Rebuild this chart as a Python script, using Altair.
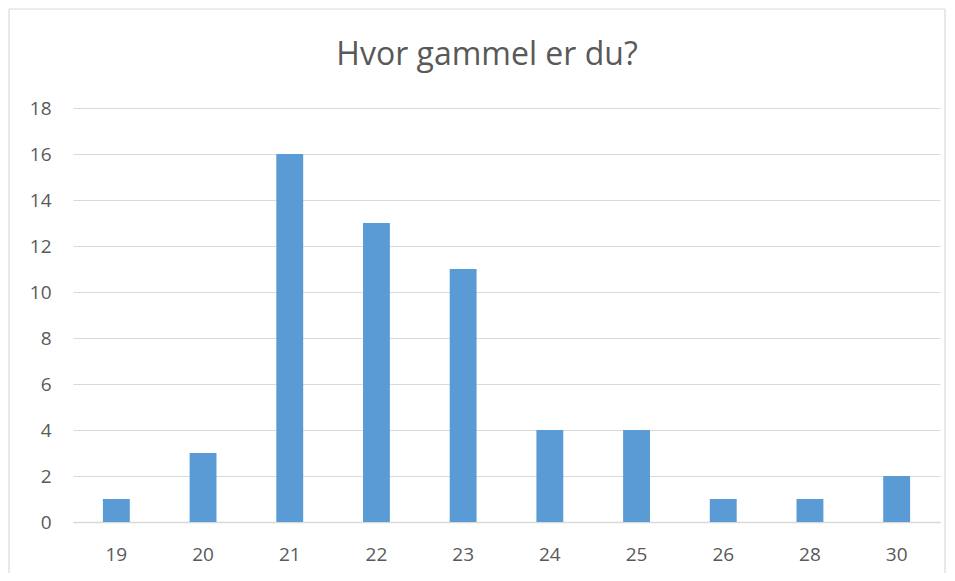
import altair as alt
import pandas as pd

ages = ["19", "20", "21", "22", "23", "24", "25", "26", "28", "30"]
counts = [1, 3, 16, 13, 11, 4, 4, 1, 1, 2]
y_ticks = [0, 2, 4, 6, 8, 10, 12, 14, 16, 18]
title_text = "Hvor gammel er du?"

df = pd.DataFrame({"age": ages, "count": counts})

FONT = "Open Sans"
W, H = 867, 414

bars = alt.Chart(df).mark_bar(color="#5B9BD5").encode(
    x=alt.X("age:N", sort=ages,
            scale=alt.Scale(paddingInner=0.69, paddingOuter=0.345),
            axis=alt.Axis(title=None, labelAngle=0, ticks=False, domain=True,
                          domainColor="#D9D9D9", domainWidth=1.5,
                          labelFontSize=19, labelColor="#595959", labelFont=FONT,
                          labelPadding=23, grid=False)),
    y=alt.Y("count:Q",
            scale=alt.Scale(domain=[0, 18], nice=False),
            axis=alt.Axis(title=None, values=y_ticks, ticks=False, domain=False,
                          labelFontSize=19, labelColor="#595959", labelFont=FONT,
                          labelPadding=22, gridColor="#D9D9D9", gridWidth=1.2)),
)

border_df = pd.DataFrame({"k": [0]})
top_edge = alt.Chart(border_df).mark_rule(stroke="#D9D9D9", strokeWidth=1.2).encode(
    x=alt.value(-64), x2=alt.value(872), y=alt.value(-99))
left_edge = alt.Chart(border_df).mark_rule(stroke="#D9D9D9", strokeWidth=1.2).encode(
    x=alt.value(-64), y=alt.value(-99), y2=alt.value(480))
right_edge = alt.Chart(border_df).mark_rule(stroke="#D9D9D9", strokeWidth=1.2).encode(
    x=alt.value(872), y=alt.value(-99), y2=alt.value(480))

title = alt.Chart(pd.DataFrame({"t": [title_text]})).mark_text(
    font=FONT, fontSize=32, color="#595959", align="center", baseline="alphabetic"
).encode(
    text="t:N", x=alt.value(414), y=alt.value(-43)
)

chart = alt.layer(top_edge, left_edge, right_edge, bars, title).properties(
    width=W, height=H,
    autosize=alt.AutoSizeParams(type="none"),
    padding={"left": 65, "top": 100, "right": 7, "bottom": 51},
    view=alt.ViewBackground(stroke=None, strokeWidth=0),
).configure_view(stroke=None, strokeWidth=0).configure(background="white")

chart.save("out.html", embed_options={"renderer": "svg", "actions": False})
